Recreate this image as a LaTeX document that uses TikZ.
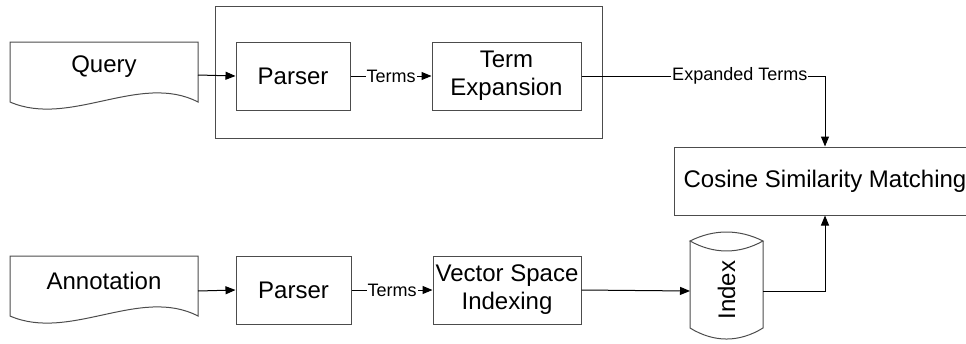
\documentclass[tikz,border=0pt]{standalone}
\usepackage{fontspec}
\setmainfont{Liberation Sans}
\usetikzlibrary{arrows.meta}
\begin{document}
\begin{tikzpicture}[x=1pt,y=-1pt,
  outline/.style={draw=black!70, line width=1pt},
  procbox/.style={outline, rectangle, inner sep=0pt, align=center,
    font=\fontsize{24}{28}\selectfont},
  hidden/.style={inner sep=0pt, outer sep=0pt},
  maintext/.style={inner sep=0pt, font=\fontsize{24}{28}\selectfont},
  conn/.style={draw=black, line width=1pt, -{Triangle[length=10pt,width=8pt]}},
  lbl/.style={fill=white, inner sep=1pt, font=\fontsize{18}{20}\selectfont}
]
\useasboundingbox (0,0) rectangle (966,343);
\clip (0,0) rectangle (966,343);

% group frame
\draw[outline] (215,6) rectangle (602,138);

% documents
\draw[outline] (10,42) -- (198,42) -- (198,102) .. controls (140,72) and (70,128) .. (10,102) -- cycle;
\node[hidden, minimum width=188pt, minimum height=66pt] (qdoc) at (104,75) {};
\node[maintext] (qtext) at (104,67) {Query};

\draw[outline] (10,256) -- (198,256) -- (198,316) .. controls (140,286) and (70,342) .. (10,316) -- cycle;
\node[hidden, minimum width=188pt, minimum height=70pt] (adoc) at (104,291) {};
\node[maintext] (atext) at (104,281) {Annotation};

% process boxes
\node[procbox, minimum width=114pt, minimum height=68pt] (p1) at (293,76) {Parser};
\node[procbox, minimum width=149pt, minimum height=68pt] (te) at (506.5,76) {Term\\Expansion};
\node[procbox, minimum width=115pt, minimum height=68pt] (p2) at (293.5,290) {Parser};
\node[procbox, minimum width=148pt, minimum height=68pt] (vsi) at (507,290) {Vector Space\\Indexing};
\node[procbox, minimum width=302pt, minimum height=68pt] (csm) at (825,181) {Cosine Similarity Matching};

% index cylinder
\draw[outline] (690,241) .. controls (714,229) and (739,229) .. (763,241)
  .. controls (739,254.3) and (714,254.3) .. (690,241) -- cycle;
\draw[outline] (690,241) -- (690,328) .. controls (714,342.7) and (739,342.7) .. (763,328) -- (763,241);
\node[hidden, minimum width=73pt, minimum height=80pt] (idx) at (726.5,291) {};
\node[maintext, rotate=90] (idxt) at (726.5,290) {Index};

% connectors
\draw[conn] (qdoc.east) -- (p1.west);
\draw[conn] (p1.east) -- node[lbl] {Terms} (te.west);
\draw[conn] (te.east) -| node[lbl, pos=0.325] {Expanded Terms} (csm.north);
\draw[conn] (adoc.east) -- (p2.west);
\draw[conn] (p2.east) -- node[lbl] {Terms} (vsi.west);
\draw[conn] (vsi.east) -- (idx.west);
\draw[conn] (idx.east) -| (csm.south);
\end{tikzpicture}
\end{document}
